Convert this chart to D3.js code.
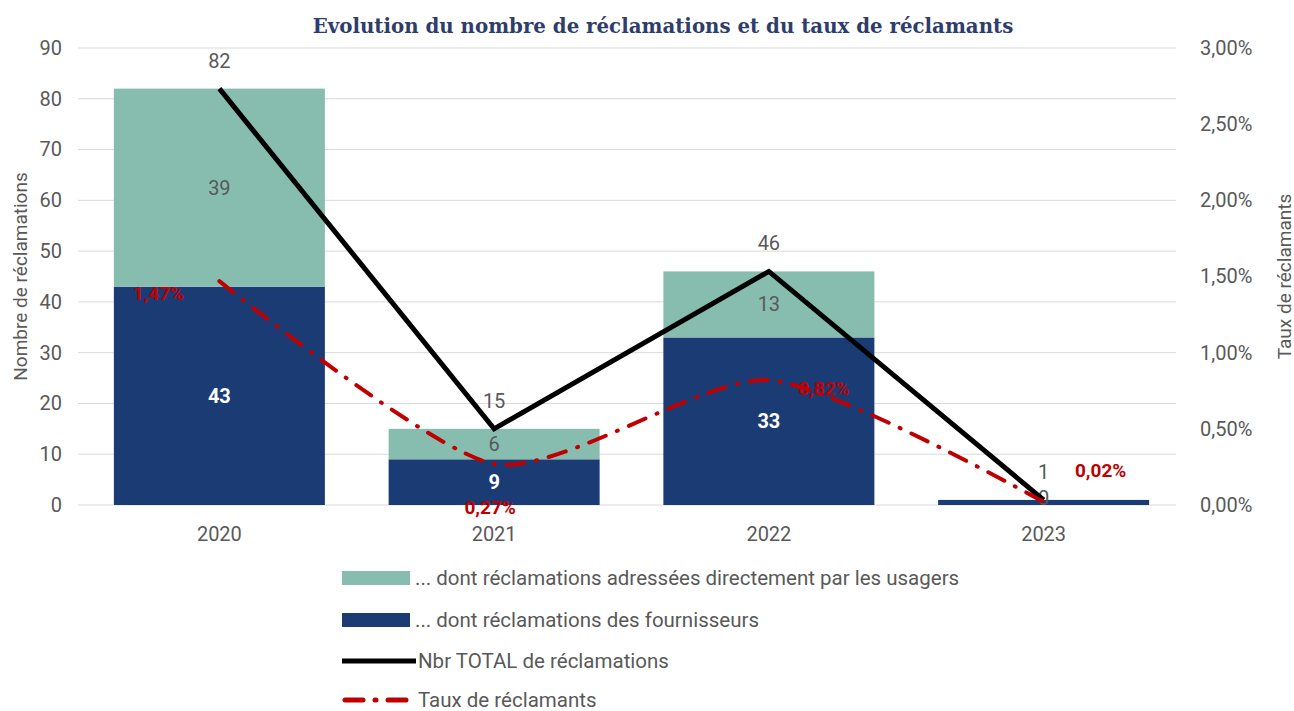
<!DOCTYPE html>
<html>
<head>
<meta charset="utf-8">
<script src="https://cdn.jsdelivr.net/npm/d3@7"></script>
<style>
  body { margin: 0; background: #fff; }
  text { font-family: Roboto, "Noto Sans", sans-serif; }
</style>
</head>
<body>
<div id="chart"></div>
<script>
// data
var years = ["2020", "2021", "2022", "2023"];
var usagers = [39, 6, 13, 0];
var fournisseurs = [43, 9, 33, 1];
var totals = [82, 15, 46, 1];
var taux = [1.47, 0.27, 0.82, 0.02];
var leftTicks = [0, 10, 20, 30, 40, 50, 60, 70, 80, 90];
var rightTicks = [0, 0.5, 1, 1.5, 2, 2.5, 3];

var W = 1294, H = 711;
var margin = { top: 48, left: 82, right: 113, bottom: 206 };
var plotW = W - margin.left - margin.right,
    plotH = H - margin.top - margin.bottom;

var svg = d3.select("#chart").append("svg")
    .attr("width", W)
    .attr("height", H);

var colTeal = "#87bdaf", colNavy = "#1b3b74", colRed = "#c00000", colGrey = "#595959";
var fs = "20px";

var x = d3.scaleBand().domain(years).range([margin.left, margin.left + plotW])
    .paddingInner(0.232).paddingOuter(0.116);
var y = d3.scaleLinear().domain([0, 90]).range([margin.top + plotH, margin.top]);
var y2 = d3.scaleLinear().domain([0, 3]).range([margin.top + plotH, margin.top]);
var cx = function (i) { return x(years[i]) + x.bandwidth() / 2; };

// title
svg.append("text")
    .attr("x", 663).attr("y", 33)
    .attr("text-anchor", "middle")
    .style("font-family", "'DejaVu Serif', 'Liberation Serif', serif")
    .style("font-weight", "bold")
    .style("font-size", "19.8px")
    .attr("fill", "#2e3d6b")
    .text("Evolution du nombre de réclamations et du taux de réclamants");

// gridlines
svg.append("g").selectAll("line")
    .data(leftTicks)
    .enter().append("line")
    .attr("x1", 78).attr("x2", 1176)
    .attr("y1", function (d) { return y(d); })
    .attr("y2", function (d) { return y(d); })
    .attr("stroke", "#d9d9d9").attr("stroke-width", 1);

// left axis
var gl = svg.append("g")
    .attr("transform", "translate(62,0)")
    .call(d3.axisLeft(y).tickValues(leftTicks).tickSize(0).tickPadding(0));
gl.select(".domain").remove();
gl.selectAll("text").style("font-size", fs).attr("fill", colGrey)
    .style("font-family", "Roboto, sans-serif");

// right axis
var fmtPct = function (d) { return d.toFixed(2).replace(".", ",") + "%"; };
var gr = svg.append("g")
    .attr("transform", "translate(1200,0)")
    .call(d3.axisRight(y2).tickValues(rightTicks).tickSize(0).tickPadding(0).tickFormat(fmtPct));
gr.select(".domain").remove();
gr.selectAll("text").style("font-size", fs).attr("fill", colGrey)
    .style("font-family", "Roboto, sans-serif");

// x axis
var gx = svg.append("g")
    .attr("transform", "translate(0," + (margin.top + plotH) + ")")
    .call(d3.axisBottom(x).tickSize(0).tickPadding(22));
gx.select(".domain").remove();
gx.selectAll("text").style("font-size", fs).attr("fill", colGrey)
    .style("font-family", "Roboto, sans-serif");

// axis titles
svg.append("text")
    .attr("transform", "translate(20," + y(45) + ") rotate(-90)")
    .attr("text-anchor", "middle")
    .attr("dominant-baseline", "central")
    .style("font-size", "19px").attr("fill", colGrey)
    .text("Nombre de réclamations");
svg.append("text")
    .attr("transform", "translate(1284," + y(45) + ") rotate(-90)")
    .attr("text-anchor", "middle")
    .attr("dominant-baseline", "central")
    .style("font-size", "19px").attr("fill", colGrey)
    .text("Taux de réclamants");

// stacked bars
var bars = svg.append("g");
bars.selectAll(".four")
    .data(fournisseurs)
    .enter().append("rect")
    .attr("x", function (d, i) { return x(years[i]); })
    .attr("width", x.bandwidth())
    .attr("y", function (d) { return y(d); })
    .attr("height", function (d) { return y(0) - y(d); })
    .attr("fill", colNavy);
bars.selectAll(".usa")
    .data(usagers)
    .enter().append("rect")
    .attr("x", function (d, i) { return x(years[i]); })
    .attr("width", x.bandwidth())
    .attr("y", function (d, i) { return y(fournisseurs[i] + d); })
    .attr("height", function (d, i) { return y(fournisseurs[i]) - y(fournisseurs[i] + d); })
    .attr("fill", colTeal);

// segment labels
svg.append("g").selectAll("text")
    .data(fournisseurs)
    .enter().filter(function (d) { return d > 1; }).append("text")
    .attr("x", function (d, i) { return cx(i); })
    .attr("y", function (d) { return y(d / 2); })
    .attr("text-anchor", "middle")
    .attr("dominant-baseline", "central")
    .style("font-size", fs).style("font-weight", "bold")
    .attr("fill", "#fff")
    .text(function (d) { return d; });
svg.append("g").selectAll("text")
    .data(usagers)
    .enter().append("text")
    .attr("x", function (d, i) { return cx(i); })
    .attr("y", function (d, i) { return d > 0 ? y(fournisseurs[i] + d / 2) : y(0) - 7; })
    .attr("text-anchor", "middle")
    .attr("dominant-baseline", "central")
    .style("font-size", fs)
    .attr("fill", colGrey)
    .text(function (d) { return d; });

// total line
var lineTotal = d3.line()
    .x(function (d, i) { return cx(i); })
    .y(function (d) { return y(d); });
svg.append("path")
    .datum(totals)
    .attr("fill", "none")
    .attr("stroke", "#000")
    .attr("stroke-width", 5)
    .attr("stroke-linejoin", "miter")
    .attr("d", lineTotal);

svg.append("g").selectAll("text")
    .data(totals)
    .enter().append("text")
    .attr("x", function (d, i) { return cx(i); })
    .attr("y", function (d) { return y(d) - 28; })
    .attr("text-anchor", "middle")
    .attr("dominant-baseline", "central")
    .style("font-size", fs)
    .attr("fill", colGrey)
    .text(function (d) { return d; });

// taux line (smoothed, dash-dot)
var lineTaux = d3.line()
    .x(function (d, i) { return cx(i); })
    .y(function (d) { return y2(d); })
    .curve(d3.curveCardinal.tension(0.3));
svg.append("path")
    .datum(taux)
    .attr("fill", "none")
    .attr("stroke", colRed)
    .attr("stroke-width", 4)
    .attr("stroke-linecap", "round")
    .attr("stroke-dasharray", "18,12,1,12")
    .attr("d", lineTaux);

// taux labels, placed around the points
var tauxOffsets = [[-61, 12], [-4, 44], [55, 8], [57, -31]];
svg.append("g").selectAll("text")
    .data(taux)
    .enter().append("text")
    .attr("x", function (d, i) { return cx(i) + tauxOffsets[i][0]; })
    .attr("y", function (d, i) { return y2(d) + tauxOffsets[i][1]; })
    .attr("text-anchor", "middle")
    .attr("dominant-baseline", "central")
    .style("font-size", "19px").style("font-weight", "bold")
    .attr("fill", colRed)
    .text(function (d) { return fmtPct(d); });

// legend
var legend = svg.append("g");
var legItems = [
    { label: "... dont réclamations adressées directement par les usagers", type: "rect", color: colTeal, y: 578 },
    { label: "... dont réclamations des fournisseurs", type: "rect", color: colNavy, y: 620 },
    { label: "Nbr  TOTAL de réclamations", type: "line", color: "#000", y: 661 },
    { label: "Taux de réclamants", type: "dash", color: colRed, y: 700 }
];
legItems.forEach(function (d) {
    if (d.type === "rect") {
        legend.append("rect").attr("x", 342).attr("y", d.y - 7).attr("width", 68).attr("height", 14).attr("fill", d.color);
    } else if (d.type === "line") {
        legend.append("line").attr("x1", 342).attr("x2", 416).attr("y1", d.y).attr("y2", d.y)
            .attr("stroke", d.color).attr("stroke-width", 5);
    } else {
        legend.append("line").attr("x1", 345).attr("x2", 412).attr("y1", d.y).attr("y2", d.y)
            .attr("stroke", d.color).attr("stroke-width", 5).attr("stroke-linecap", "round")
            .attr("stroke-dasharray", "18,12,1,12");
    }
    legend.append("text")
        .attr("x", d.type === "rect" ? 415 : 418).attr("y", d.y)
        .attr("dominant-baseline", "central")
        .style("font-size", "20.5px")
        .attr("fill", colGrey)
        .text(d.label);
});
</script>
</body>
</html>
